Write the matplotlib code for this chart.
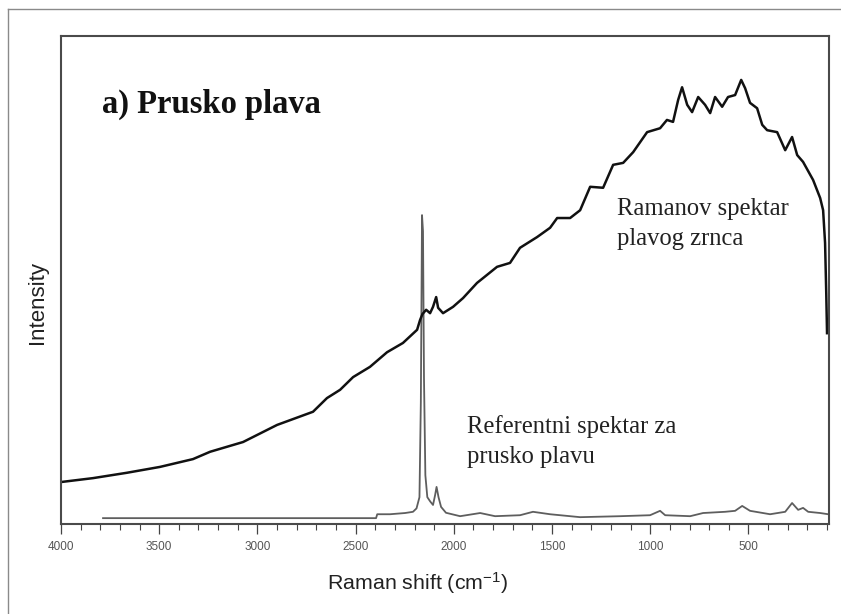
import matplotlib
matplotlib.use("Agg")
import matplotlib.pyplot as plt
from matplotlib.lines import Line2D
from matplotlib.ticker import MultipleLocator

# Raman spectrum of the blue grain (black curve)
sample_wn = [4000, 3837, 3664, 3496, 3328, 3241, 3073, 2900, 2717, 2646, 2579, 2513,
             2427, 2340, 2259, 2187, 2172, 2160, 2141, 2121, 2106, 2090, 2080, 2055,
             2004, 1953, 1882, 1851, 1780, 1714, 1663, 1576, 1510, 1474, 1408, 1357,
             1306, 1240, 1189, 1138, 1087, 1016, 950, 915, 884, 858, 838, 812, 787,
             756, 721, 695, 670, 634, 604, 568, 537, 517, 492, 456, 430, 405, 354,
             313, 278, 252, 222, 171, 135, 120, 110, 104, 100]
sample_int = [8.6, 9.4, 10.5, 11.7, 13.3, 14.8, 16.8, 20.3, 23.0, 25.8, 27.5, 30.1,
              32.2, 35.2, 37.1, 39.8, 41.8, 43.0, 43.9, 43.2, 44.5, 46.5, 44.3, 43.2,
              44.5, 46.3, 49.4, 50.4, 52.7, 53.5, 56.6, 58.8, 60.7, 62.7, 62.7, 64.3,
              69.1, 68.9, 73.6, 74.0, 76.2, 80.3, 81.1, 82.8, 82.4, 86.9, 89.5, 85.9,
              84.4, 87.5, 85.9, 84.2, 87.5, 85.5, 87.5, 87.9, 91.0, 89.3, 86.3, 85.2,
              81.8, 80.7, 80.3, 76.6, 79.3, 75.6, 74.2, 70.5, 66.8, 64.3, 57.6, 47.3,
              39.1]

# Reference spectrum of Prussian blue (grey curve)
ref_wn = [3786, 2396, 2390, 2325, 2248, 2208, 2190, 2175, 2168, 2162, 2157, 2152,
          2145, 2135, 2120, 2106, 2095, 2088, 2078, 2065, 2040, 1968, 1866, 1790,
          1663, 1597, 1510, 1357, 1153, 1001, 950, 924, 797, 731, 619, 568, 532,
          492, 390, 313, 278, 247, 222, 196, 135, 94]
ref_int = [1.2, 1.2, 2.0, 2.0, 2.25, 2.5, 3.2, 5.5, 25.0, 63.3, 60.0, 30.0,
           10.0, 5.5, 4.6, 3.9, 6.0, 7.6, 5.5, 3.5, 2.3, 1.6, 2.25, 1.6,
           1.8, 2.5, 2.0, 1.4, 1.6, 1.8, 2.7, 1.8, 1.6, 2.25, 2.5, 2.7, 3.7,
           2.7, 2.0, 2.5, 4.3, 2.9, 3.3, 2.5, 2.25, 2.0]

xticks = [4000, 3500, 3000, 2500, 2000, 1500, 1000, 500]

plt.rcParams['mathtext.fontset'] = 'custom'
plt.rcParams['mathtext.rm'] = 'Liberation Sans'
plt.rcParams['mathtext.it'] = 'Liberation Sans'

W, H = 841, 614
fig = plt.figure(figsize=(W / 100, H / 100), dpi=100)
ax = fig.add_axes([61 / W, 1 - 524 / H, (829 - 61) / W, (524 - 36) / H])

ax.plot(ref_wn, ref_int, color='#5e5e5e', lw=1.3, solid_joinstyle='round')
ax.plot(sample_wn, sample_int, color='#111111', lw=1.8, solid_joinstyle='round')

ax.set_xlim(4000, 90)
ax.set_ylim(0, 100)
ax.set_xticks(xticks)
ax.set_xticklabels([str(t) for t in xticks])
ax.xaxis.set_minor_locator(MultipleLocator(100))
ax.set_yticks([])
ax.tick_params(axis='x', which='major', direction='out', length=7, width=0.9,
               color='#444444', labelsize=8.5, labelcolor='#555555', pad=5)
ax.tick_params(axis='x', which='minor', direction='out', length=4.2, width=0.8,
               color='#444444')
for lab in ax.get_xticklabels():
    lab.set_family('Liberation Sans')
for s in ax.spines.values():
    s.set_color('#4a4a4a')
    s.set_linewidth(1.5)

ax.text(0.0534, 0.842, 'a) Prusko plava', transform=ax.transAxes,
        family='Liberation Serif', weight='bold', fontsize=23.5, va='baseline',
        color='#111111')
ax.text(0.724, 0.633, 'Ramanov spektar', transform=ax.transAxes,
        family='Liberation Serif', fontsize=17.7, va='baseline', color='#222222')
ax.text(0.724, 0.572, 'plavog zrnca', transform=ax.transAxes,
        family='Liberation Serif', fontsize=17.7, va='baseline', color='#222222')
ax.text(0.529, 0.186, 'Referentni spektar za', transform=ax.transAxes,
        family='Liberation Serif', fontsize=17.7, va='baseline', color='#222222')
ax.text(0.529, 0.125, 'prusko plavu', transform=ax.transAxes,
        family='Liberation Serif', fontsize=17.7, va='baseline', color='#222222')

fig.text(418 / W, 1 - 590 / H, 'Raman shift (cm$^{-1}$)', family='Liberation Sans',
         fontsize=15.4, ha='center', va='baseline', color='#222222')
fig.text(37 / W, 1 - 302 / H, 'Intensity', family='Liberation Sans', fontsize=16,
         ha='center', va='center', rotation=90, color='#222222')

# outer frame (left and top edges visible)
fig.add_artist(Line2D([8 / W, 8 / W], [0, 1 - 8.5 / H], transform=fig.transFigure,
                      color='#8a8a8a', lw=1.0))
fig.add_artist(Line2D([8 / W, 1], [1 - 8.5 / H, 1 - 8.5 / H], transform=fig.transFigure,
                      color='#8a8a8a', lw=1.0))

fig.savefig('out.png', dpi=100)
